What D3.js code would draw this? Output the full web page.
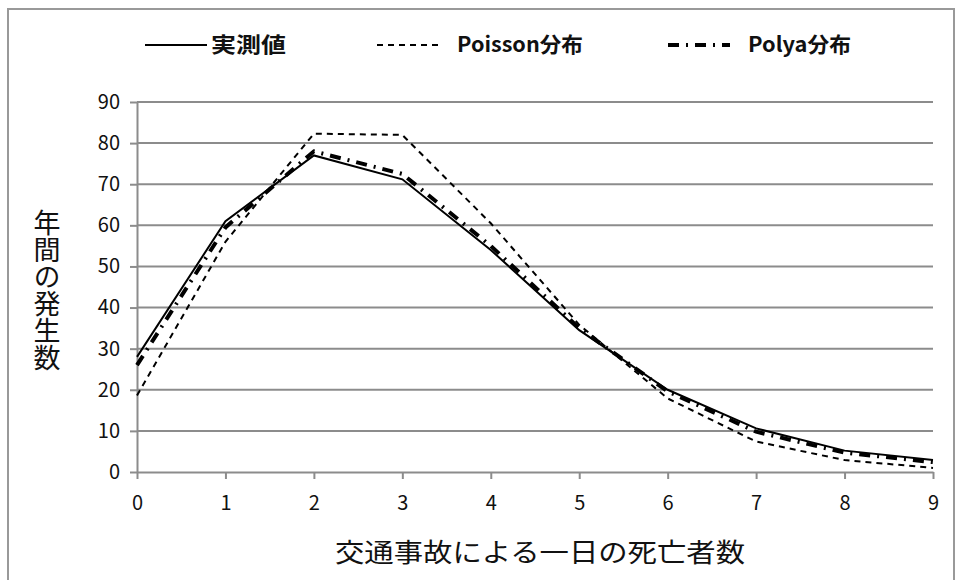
<!DOCTYPE html>
<html lang="ja">
<head>
<meta charset="UTF-8">
<title>交通事故による一日の死亡者数</title>
<script src="https://d3js.org/d3.v7.min.js"></script>
<style>
  body { margin: 0; background: #fff; }
  text { font-family: "Noto Sans CJK JP", "Noto Sans", sans-serif; fill: #111; }
</style>
</head>
<body>
<div id="chart"></div>
<script>
// データ
const deaths = [0, 1, 2, 3, 4, 5, 6, 7, 8, 9];
const observed = [28, 61, 77, 71.2, 54, 34.5, 20, 10.6, 5.2, 2.9];
const poisson = [18.6, 56, 82.3, 82, 60.5, 35.8, 17.9, 7.4, 2.9, 1.0];
const polya = [26, 59.5, 78, 72.5, 55, 35, 19.6, 9.8, 4.7, 2.4];
const yTicks = [0, 10, 20, 30, 40, 50, 60, 70, 80, 90];
const seriesNames = ["実測値", "Poisson分布", "Polya分布"];

const W = 959, H = 580;
const margin = { left: 137, right: 26, top: 102, bottom: 108 };

const svg = d3.select("#chart").append("svg")
  .attr("width", W)
  .attr("height", H);

// 外枠
svg.append("rect")
  .attr("x", 8).attr("y", 9)
  .attr("width", 946).attr("height", 600)
  .attr("fill", "none")
  .attr("stroke", "#999")
  .attr("stroke-width", 2);

const x = d3.scaleLinear().domain([0, 9]).range([margin.left, W - margin.right]);
const y = d3.scaleLinear().domain([0, 90]).range([H - margin.bottom, margin.top]);

// グリッド線
svg.append("g")
  .selectAll("line")
  .data(yTicks.filter(d => d > 0))
  .enter().append("line")
  .attr("x1", x(0)).attr("x2", x(9))
  .attr("y1", d => y(d)).attr("y2", d => y(d))
  .attr("stroke", "#8c8c8c")
  .attr("stroke-width", 2);

// Y軸
const yAxis = svg.append("g")
  .attr("transform", `translate(${x(0)},0)`)
  .call(d3.axisLeft(y).tickValues(yTicks).tickSize(7).tickPadding(10).tickSizeOuter(0));
yAxis.select(".domain").attr("stroke", "#8c8c8c").attr("stroke-width", 2);
yAxis.selectAll(".tick line").attr("stroke", "#8c8c8c").attr("stroke-width", 2);
yAxis.selectAll(".tick text")
  .attr("font-size", 20)
  .attr("fill", "#111")
  .style("font-family", "'Noto Sans CJK JP', sans-serif");

// X軸
const xAxis = svg.append("g")
  .attr("transform", `translate(0,${y(0)})`)
  .call(d3.axisBottom(x).tickValues(deaths).tickSize(7).tickPadding(17).tickSizeOuter(0));
xAxis.select(".domain").attr("stroke", "#8c8c8c").attr("stroke-width", 2);
xAxis.selectAll(".tick line").attr("stroke", "#8c8c8c").attr("stroke-width", 2);
xAxis.selectAll(".tick text")
  .attr("font-size", 20)
  .attr("fill", "#111")
  .style("font-family", "'Noto Sans CJK JP', sans-serif");

// 線
const line = d3.line()
  .x((d, i) => x(deaths[i]))
  .y(d => y(d));

const styles = [
  { data: observed, width: 2, dash: null },
  { data: poisson, width: 2, dash: "6,5" },
  { data: polya, width: 4, dash: "11,7,2,7" }
];

styles.forEach(s => {
  svg.append("path")
    .datum(s.data)
    .attr("d", line)
    .attr("fill", "none")
    .attr("stroke", "#000")
    .attr("stroke-width", s.width)
    .attr("stroke-dasharray", s.dash);
});

// 凡例
const legendX = [145, 377, 668];
const legendW = [75, 126, 103];
const legend = svg.append("g");
styles.forEach((s, i) => {
  legend.append("line")
    .attr("x1", legendX[i]).attr("x2", legendX[i] + 62)
    .attr("y1", 45).attr("y2", 45)
    .attr("stroke", "#000")
    .attr("stroke-width", s.width)
    .attr("stroke-dasharray", s.dash);
  legend.append("text")
    .attr("x", legendX[i] + 66 + (i > 0 ? 14 : 0))
    .attr("y", 52)
    .attr("font-size", 21)
    .attr("font-weight", "bold")
    .attr("textLength", legendW[i])
    .attr("lengthAdjust", "spacingAndGlyphs")
    .text(seriesNames[i]);
});

// 軸タイトル
svg.append("text")
  .attr("x", 540)
  .attr("y", 562)
  .attr("text-anchor", "middle")
  .attr("font-size", 26)
  .attr("textLength", 410)
  .attr("lengthAdjust", "spacingAndGlyphs")
  .text("交通事故による一日の死亡者数");

svg.append("text")
  .attr("transform", "translate(47,290)")
  .attr("text-anchor", "middle")
  .attr("font-size", 27)
  .attr("writing-mode", "vertical-rl")
  .attr("dominant-baseline", "central")
  .text("年間の発生数");
</script>
</body>
</html>
